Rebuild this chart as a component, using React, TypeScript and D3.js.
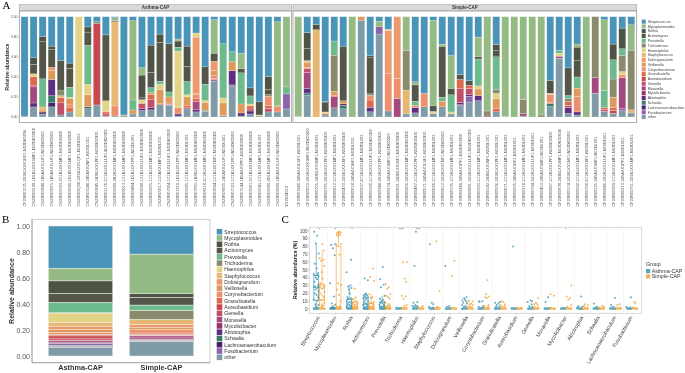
import * as d3 from "d3";
import React from "react";

const taxa = ["Streptococcus", "Mycoplasmoides", "Rothia", "Actinomyces", "Prevotella", "Trichoderma", "Haemophilus", "Staphylococcus", "Dolosigranulum", "Veillonella", "Corynebacterium", "Granulicatella", "Aureobasidium", "Gemella", "Moraxella", "Mycolicibacter", "Abiotrophia", "Schaalia", "Lachnoanaerobaculum", "Fusobacterium", "other"];
const taxonKeys = ["St", "My", "Ro", "Ac", "Pr", "Tr", "Ha", "Sp", "Do", "Ve", "Co", "Gr", "Au", "Ge", "Mo", "Ml", "Ab", "Sc", "La", "Fu", "ot"];
const taxonColors = ["#4a94b8", "#95bb85", "#4e5345", "#525748", "#6dba8d", "#8a8a6c", "#e3d385", "#e6b873", "#ec9a6c", "#dd9a5a", "#ee8f6e", "#db6a50", "#c9474f", "#c0506a", "#a34a7e", "#97306e", "#5e2f82", "#3a7a68", "#4a2170", "#8b62ab", "#7f9ba8"];

const asthmaLabels = ["CF22R01535-1D1B1XXX1KF1-N02DK00SL", "CS22R00198-1D1B1XXX1MF1-N02DK00D0", "CS22R00648-1B5AXX1LUF1-N02DK00D0", "CS22R00815-1B5AXX1LUF1-N02DK00D0", "CS22R00323-2C1B1XX1MF1-N02DK00D0", "CS22R00560-1D1B5XX1MF1-N02DK00D0", "CS22R00Q08-1D1B1XX1QF1-N02DL001", "CS22R01040-1B5AXX1NF1-N02DL001", "CS22R00845-1B3B1XX1PF1-N02DK00D0", "CS22R01170-1C1B1XX1LUF1-N02DK00D0", "CS22R00006-2B1B1XX1MF1-N02DK00D0", "CS22R00013-1C1B1XX1MF1-N02DK00D0", "CS22R00464-1D1B1XX1PF1-N02DL001", "CS22R00096-1C1B1XX1LUF1-N02DK00D0", "CS22R00255-1C1B1XX1MF1-N02DK00D0", "CS22R00517-1C5AXX1MF1-N02DL001", "CS22R07004-1C1B1XX1LUF1-N02DK00D0", "CS22R07216-1D1B1XX1PF1-N02DK00D0", "CS22R05065-1C1B1XX1MF1-N02DL001", "CS22R07855-1B3B1XX1MF1-N02DK00D0", "CS22R08118-1C1B1XX1MF1-N02DK00D0", "CS22R02004-1C1B1XX1NF1-N02DK00D0", "CS22R06655-1B5AXX1LUF1-N02DL001", "CS22R07103-1C1B1XX1PF1-N02DK00D0", "CS22R07144-1B5AXX1PF1-N02DK00D0", "CS22R00061-2C1B1XX1MF1-N02DK00D0", "CS22R00341-1C1B1XX1MF1-N02DL001", "CS22R00306-2D1B1XX1MF1-N02DK00D0", "CS22R00806-1B5AXX1LUF1-N02DK00D0", "KY2024012"];
const simpleLabels = ["CF22R01640-1B5AXX1LUF1-N02DL001", "CF22R00052-1D1B1XXX1MF1-N02DK00D0", "CF22R00105-1B3B1XX1MF1-N02DL001", "CF22R00765-1D1B1XX1PF1-N02DK00D0", "CF22R00812-1C1B1XX1MF1-N02DL001", "CF22R00433-1D1B1XX1KF1-N02DK00D0", "CF22R00618-1B5AXX1NF1-N02DL001", "CF22R00937-2C1B1XX1MF1-N02DL001", "CF22R00160-1C1B1XX1LUF1-N02DK00D0", "CF22R00348-1D1B1XX1PF1-N02DK00D0", "CF22R00274-1B5AXX1MF1-N02DK00D0", "CF22R00821-1B3B1XX1KF1-N02DK00D0", "CF22R00956-1D1B1XX1MF1-N02DK00D0", "CF22R00467-1C1B1XX1PF1-N02DK00D0", "CF22R00571-1B5AXX1LUF1-N02DK00D0", "CF22R00086-1C1B1XX1MF1-N02DL001", "CF22R00612-1D1B1XX1NF1-N02DK00D0", "CF22R00735-1C1B1XX1MF1-N02DL001", "CF22R00249-1B5AXX1PF1-N02DK00D0", "CF22R00881-1D1B1XX1LUF1-N02DK00D0", "CF22R00393-1C1B1XX1MF1-N02DL001", "CF22R00142-1B3B1XX1NF1-N02DL001", "CF22R00506-1D1B1XX1PF1-N02DL001", "CF22R00671-1C1B1XX1MF1-N02DL001", "CF22R00225-1B5AXX1KF1-N02DL001", "CF22R00318-1C1B1XX1MF1-N02DL001", "CF22R00794-1D1B1XX1LUF1-N02DL001", "CF22R00453-1B5AXX1MF1-N02DL001", "CF22R00987-1C1B1XX1PF1-N02DK00D0", "CF22R00638-1B3B1XX1MF1-N02DK00S24", "CF22R00174-1D1B1XX1NF1-N02DK00D0", "CF22R00592-1C1B1XX1MF1-N02DL001", "CF22R00706-2C1B1XX1KF1-N02DL001", "CF22R00125-1B5AXX1MF1-N02DL001", "CF22R00840-1D1B1XX1LUF1-N02DL001", "CF22R00369-1C1B1XX1MF1-N02DL001", "CF22R00213-1B5AXX1PF1-N02DL001", "CF22R00751-1D1B1XX1MF1-N02DL001"];

const asthmaSamples = [
  { St: .99, ot: .01 },
  { St: .41, Ro: .065, Ac: .095, Ha: .03, Gr: .09, Ge: .01, Mo: .16, Ab: .04, ot: .1 },
  { St: .2, Ro: .05, Ac: .37, Pr: .28, Sp: .03, Ve: .02, Ab: .02, ot: .03 },
  { St: .29, Ro: .03, Ac: .18, Ve: .09, Do: .03, Ab: .16, Sc: .07, La: .04, ot: .1 },
  { St: .43, Ac: .3, Tr: .05, Sp: .02, Gr: .05, Ge: .12, ot: .02 },
  { St: .46, Ro: .05, Ac: .19, Pr: .1, Sp: .015, Ve: .06, Co: .03, Gr: .04, ot: .05 },
  { Ha: 1 },
  { St: .1, Ro: .05, Ac: .13, Pr: .38, Ha: .1, Ve: .12, Sc: .02, ot: .08 },
  { St: .05, Tr: .02, Au: .81, ot: .12 },
  { St: .18, Ac: .65, Ha: .11, Gr: .02, Ge: .02, ot: .01 },
  { St: .01, My: .03, Ro: .01, Sp: .84, Co: .1, ot: .01 },
  { St: .98, Co: .005, ot: .015 },
  { St: .04, My: .79, Pr: .1, Ve: .04, ot: .03 },
  { St: .56, My: .08, Ro: .25, Ac: .02, Ha: .04, Ge: .06, Ab: .02, ot: .07 },
  { St: .28, Ro: .27, Ac: .15, Pr: .05, Ve: .02, Gr: .05, Ge: .08, Ab: .02, ot: .07 },
  { St: .17, Ro: .08, Ac: .38, Pr: .03, Ha: .05, Ve: .14, Gr: .01, ot: .12 },
  { St: .27, Ac: .48, Pr: .05, Ve: .06, Co: .015, Fu: .01, ot: .115 },
  { St: .22, My: .02, Ro: .06, Pr: .04, Ha: .56, Co: .06, Ab: .02, ot: .01 },
  { St: .29, Ro: .2, Ac: .15, Pr: .13, Ha: .02, Ve: .09, Gr: .02, Ge: .01, ot: .08 },
  { St: .16, Ha: .04, Do: .55, Ve: .015, Co: .04, Gr: .03, Mo: .08, Ab: .02, ot: .05 },
  { St: .52, Ac: .18, Pr: .17, Ha: .02, Ve: .08, Sc: .01, ot: .06 },
  { St: .03, My: .33, Ac: .08, Ve: .05, Co: .03, Do: .09, Gr: .01, Fu: .015, ot: .355 },
  { St: .27, Pr: .54, Ha: .05, Ve: .125, ot: .015 },
  { St: .35, Pr: .1, Ve: .09, Ab: .14, Sc: .01, Fu: .01, ot: .3 },
  { St: .365, My: .155, Ac: .04, Pr: .31, Ve: .09, Ab: .03, ot: .01 },
  { St: .71, Ac: .08, Pr: .08, Ha: .02, Gr: .03, Ge: .02, Ab: .03, ot: .03 },
  { St: .84, Ac: .13, Ha: .01, ot: .01 },
  { St: .59, Ro: .13, Ac: .05, Tr: .015, Co: .09, Gr: .03, Ge: .035, ot: .05 },
  { St: .05, My: .83, Ve: .01, Co: .05, ot: .05 },
  { My: .7, Pr: .07, Fu: .15, ot: .08 },
];

const simpleSamples = [
  { My: .995, ot: .005 },
  { St: .16, Ro: .16, Ac: .12, Ha: .015, Ve: .05, Co: .015, Ge: .04, Mo: .16, Ab: .045, Sc: .02, ot: .22 },
  { St: .08, Ro: .05, Sp: .87 },
  { St: .84, Ro: .015, Ac: .09, Ha: .015, Gr: .015, ot: .02 },
  { St: .24, Pr: .14, Tr: .355, Ve: .04, Gr: .015, Mo: .11, ot: .09 },
  { St: .29, Ac: .54, Ve: .03, Ab: .015, Sc: .035, ot: .08 },
  { My: 1 },
  { Ve: .035, ot: .96 },
  { St: .38, Ro: .02, Ac: .35, Tr: .015, Co: .045, Gr: .07, Ab: .045, ot: .05 },
  { St: .045, My: .055, Fu: .07, ot: .815 },
  { St: .125, Ha: .01, Do: .43, Co: .37, ot: .06 },
  { Do: .615, Co: .2, Mo: .185 },
  { My: .33, Tr: .39, Sp: .235, ot: .03 },
  { St: .64, My: .03, Ac: .16, Pr: .04, Co: .025, Ab: .05, ot: .04 },
  { St: .755, Co: .135, ot: .1 },
  { St: .035, My: .85, Ac: .06, Ha: .02, ot: .035 },
  { St: .27, My: .02, Ac: .5, Pr: .04, Ve: .055, ot: .1 },
  { St: .385, My: .325, Ac: .065, Pr: .17, Ha: .02, ot: .03 },
  { St: .56, Ac: .05, Gr: .09, Ge: .135, Ab: .02, Fu: .01, ot: .11 },
  { St: .62, Ac: .045, Gr: .03, Ge: .06, Ab: .015, Fu: .055, ot: .145 },
  { St: .2, My: .19, Ac: .025, Pr: .265, Ha: .03, Ve: .065, Ab: .05, ot: .16 },
  { My: .94, Tr: .05, Mo: .01 },
  { St: .27, Ro: .06, Ac: .06, Pr: .32, Tr: .035, Ha: .05, Ve: .1, Gr: .03, ot: .05 },
  { My: .995, ot: .005 },
  { My: 1 },
  { My: .825, Tr: .14, Mo: .025, ot: .01 },
  { My: 1 },
  { My: .98, Tr: .02 },
  { St: .615, Ro: .125, Ha: .01, Co: .08, Gr: .01, Sc: .03, ot: .1 },
  { St: .33, Pr: .03, Ha: .03, Mo: .02, ot: .58 },
  { St: .49, Ac: .265, Pr: .025, Tr: .03, Gr: .04, Ge: .02, Ab: .055, ot: .035 },
  { St: .27, My: .03, Ro: .135, Ac: .16, Pr: .11, Ve: .08, Co: .155, Ab: .03, ot: .02 },
  { My: 1 },
  { Tr: .6, Mo: .155, ot: .235 },
  { St: .03, My: .7, Pr: .17, Gr: .02, Ge: .02, ot: .055 },
  { St: .27, Ro: .155, Pr: .19, Tr: .18, Ve: .1, Gr: .03, Au: .03, ot: .035 },
  { St: .11, Ro: .2, Pr: .065, Tr: .155, Ha: .03, Do: .03, Mo: .3, Fu: .02, ot: .06 },
  { St: .08, My: .25, Tr: .59, Sp: .03, ot: .04 },
];

const groups = ["Asthma-CAP", "Simple-CAP"];
const asthmaMean = { St: .325, My: .097, Ro: .095, Ac: .07, Pr: .08, Tr: .003, Ha: .07, Sp: .03, Do: .028, Ve: .02, Co: .015, Gr: .012, Au: .023, Ge: .013, Mo: .012, Ml: .01, Ab: .012, Sc: .006, La: .004, Fu: .01, ot: .065 };
const simpleMean = { St: .215, My: .3, Ro: .03, Ac: .06, Pr: .04, Tr: .07, Ha: .002, Sp: .036, Do: .026, Ve: .015, Co: .025, Gr: .012, Au: .004, Ge: .006, Mo: .016, Ml: .012, Ab: .006, Sc: .004, La: .003, Fu: .003, ot: .11 };

const genera = taxa.slice(0, 20);
const asthmaPoints = [
  [99, 94, 84, 71, 58, 52, 46, 45, 44, 43, 42, 40, 38, 35, 30, 29, 28, 28, 27, 25, 23, 20, 18, 15, 12, 11, 6, 5, 3, 2],
  [83, 82, 78, 69, 33, 16, 7, 5, 3, 2],
  [63, 47, 30, 29, 27, 25, 20, 15, 14, 13, 12, 10, 9, 8, 7, 6, 5, 4, 3, 2],
  [39, 37, 20, 19, 18, 17, 16, 15, 14, 13, 11, 10, 8, 7, 6, 5, 4, 3, 2],
  [54, 38, 31, 28, 17, 13, 12, 10, 9, 8, 7, 6, 5, 4, 3, 2],
  [1.5, 1.2],
  [99, 55, 9, 8, 5, 4, 4, 3, 3, 2, 2],
  [83, 8, 6, 3, 2],
  [55, 4, 3],
  [15, 14, 12, 11, 10, 8, 7, 5, 4, 3, 2],
  [10, 10, 9, 4, 3, 2],
  [9, 8, 7, 5, 4, 3, 2],
  [80],
  [11, 10, 9, 6, 4, 3, 2],
  [15, 9],
  [1.5],
  [16, 4, 3, 2],
  [7, 3, 2],
  [14, 5, 3, 2],
  [15, 3, 2],
];
const simplePoints = [
  [83, 75, 65, 63, 62, 55, 47, 39, 33, 31, 30, 29, 28, 27, 26, 22, 20, 17, 15, 13, 12, 11, 8, 6, 4, 2],
  [99, 98, 98, 97, 97, 96, 95, 94, 83, 82, 70, 33, 31, 25, 18, 10, 6, 4, 2],
  [26, 15, 13, 10, 9, 8, 7, 6, 5, 4, 3, 2],
  [52, 41, 36, 19, 15, 14, 9, 8, 7, 6, 5, 4, 3, 2],
  [32, 28, 26, 19, 17, 15, 13, 8, 6, 4, 3, 2],
  [60, 60, 39, 35, 17, 16, 13, 5, 4, 2],
  [4, 3, 2],
  [87, 23, 3, 2],
  [62, 42],
  [11, 10, 9, 7, 6, 5, 4, 3, 2],
  [37, 19, 16, 15, 14, 5, 4, 3, 2],
  [10, 9, 6, 5, 4, 3, 2],
  [1.5],
  [14, 8, 7, 6, 5, 3, 2],
  [19, 17, 2],
  [30, 16, 14, 12, 5, 3],
  [6, 5, 4, 2],
  [4, 3, 2],
  [6, 5, 2],
  [9, 7, 2],
];
const lowCluster = [0.2, 0.3, 0.4, 0.5, 0.6, 0.7, 0.8, 1, 1.2, 0.1, 0.9, 0.4];
const jitter = [-0.8, 0.35, -0.2, 0.9, -0.55, 0.1, 0.7, -0.95, 0.5, -0.35, 0.85, -0.1, 0.25, -0.7, 0.6, -0.45, 0.95];

// [whisker low, q1, median, q3, whisker high]
const asthmaBoxes = [[1, 11, 28, 43, 84], [0, 0.5, 1, 2, 5], [0, 1, 4, 12, 30], [0, 1, 6, 14, 20], [0, 1, 3, 9, 17]];
const simpleBoxes = [[0, 4, 12, 32, 75], [0, 1, 3, 80, 100], [0, 1, 3, 9, 14], [0, 1, 3, 7, 19], [0, 1, 1.5, 4, 8]];
const sigMarks = { Streptococcus: "*", Mycoplasmoides: "*", Rothia: "*", Trichoderma: "***", Haemophilus: "***", Mycolicibacter: "*" };

const W = 685;
const H = 373;
const sans = "'Liberation Sans', Arial, sans-serif";
const groupColors = ["#2f8fae", "#f0a030"];

function stackOf(rows) {
  const filled = rows.map((r) => Object.fromEntries(taxonKeys.map((k) => [k, r[k] || 0])));
  return d3.stack().keys([...taxonKeys].reverse()).offset(d3.stackOffsetExpand)(filled);
}

function Bars({ rows, labels, x, y, stroke }) {
  const layers = stackOf(rows);
  return (
    <g>
      {layers.map((layer) => (
        <g key={layer.key} fill={taxonColors[taxonKeys.indexOf(layer.key)]}>
          {layer.map((d, i) =>
            d[1] - d[0] > 0 ? (
              <rect
                key={labels[i]}
                x={x(labels[i])}
                width={x.bandwidth()}
                y={y(d[1])}
                height={Math.abs(y(d[0]) - y(d[1]))}
                stroke="#f4f4ee"
                strokeWidth={stroke}
              />
            ) : null
          )}
        </g>
      ))}
    </g>
  );
}

function FacetPanel({ title, rows, labels, range, panel, y }) {
  const x = d3.scaleBand().domain(labels).range(range).paddingInner(0.22).paddingOuter(0.11);
  return (
    <g>
      <rect x={panel[0]} y={4.5} width={panel[1] - panel[0]} height={6.5} fill="#d9d9d9" stroke="#a8a8a8" strokeWidth={0.6} />
      <text x={(panel[0] + panel[1]) / 2} y={9.4} textAnchor="middle" fontSize={4.5} fontWeight="bold" fill="#333">{title}</text>
      <rect x={panel[0]} y={11} width={panel[1] - panel[0]} height={111.5} fill="#fff" stroke="#8a8a8a" strokeWidth={0.7} />
      <Bars rows={rows} labels={labels} x={x} y={y} stroke={0.25} />
      {labels.map((l) => (
        <text
          key={l}
          transform={`translate(${x(l) + x.bandwidth() / 2 + 1.3},206.5) rotate(-90)`}
          fontSize={3.95}
          fill="#555"
        >
          {l}
        </text>
      ))}
    </g>
  );
}

function PanelA() {
  const y = d3.scaleLinear().domain([0, 1]).range([117, 16.7]);
  return (
    <g>
      <FacetPanel title={groups[0]} rows={asthmaSamples} labels={asthmaLabels} range={[20, 291]} panel={[19.3, 291.7]} y={y} />
      <FacetPanel title={groups[1]} rows={simpleSamples} labels={simpleLabels} range={[293.8, 635.8]} panel={[293, 636.7]} y={y} />
      {y.ticks(4).map((t) => (
        <g key={t}>
          <line x1={18} x2={19.3} y1={y(t)} y2={y(t)} stroke="#888" strokeWidth={0.4} />
          <text x={17.5} y={y(t) + 1.2} textAnchor="end" fontSize={3.4} fill="#555">{d3.format(".2f")(t)}</text>
        </g>
      ))}
      <text transform="translate(9,67) rotate(-90)" textAnchor="middle" fontSize={5} fontWeight="bold" fill="#333">Relative abundance</text>
      {taxa.map((t, i) => (
        <g key={t}>
          <rect x={641.7} y={19.6 + i * 4.77} width={4} height={4.1} fill={taxonColors[i]} />
          <text x={647.7} y={22.9 + i * 4.77} fontSize={3.6} fill="#444">{t}</text>
        </g>
      ))}
    </g>
  );
}

function PanelB() {
  const x = d3.scaleBand().domain(groups).range([48.3, 193.7]).paddingInner(0.205);
  const y = d3.scaleLinear().domain([0, 1]).range([356, 226]);
  return (
    <g>
      <rect x={32} y={219.3} width={178} height={143.4} fill="#fff" stroke="#c4c4c4" strokeWidth={0.8} />
      <path d="M32,219.3V362.7H210" fill="none" stroke="#9a9a9a" strokeWidth={0.8} />
      <Bars rows={[asthmaMean, simpleMean]} labels={groups} x={x} y={y} stroke={0.45} />
      {y.ticks(4).map((t) => (
        <text key={t} x={30} y={y(t) + 2.5} textAnchor="end" fontSize={7} fill="#555">{d3.format(".2f")(t)}</text>
      ))}
      {groups.map((g) => (
        <text key={g} x={x(g) + x.bandwidth() / 2} y={370} textAnchor="middle" fontSize={7.3} fontWeight="bold" fill="#333">{g}</text>
      ))}
      <text transform="translate(13.8,291) rotate(-90)" textAnchor="middle" fontSize={7} fontWeight="bold" fill="#333">Relative abundance</text>
      {taxa.map((t, i) => (
        <g key={t}>
          <rect x={216.7} y={228.9 + i * 6.28} width={5.6} height={5.6} fill={taxonColors[i]} />
          <text x={224.3} y={233.6 + i * 6.28} fontSize={5.1} fill="#333">{t}</text>
        </g>
      ))}
    </g>
  );
}

function GroupDots({ values, cx, color }) {
  return (
    <g fill={color} opacity={0.75}>
      {values.map((v, i) => (
        <circle key={i} cx={cx(i)} cy={v} r={1} />
      ))}
    </g>
  );
}

function PanelC() {
  const x = d3.scalePoint().domain(genera).range([309.3, 641.7]).padding(0.6);
  const y = d3.scaleLinear().domain([0, 100]).range([309, 231]);
  const dodge = 2.9;
  const step = x.step();
  return (
    <g>
      <rect x={309.3} y={227.3} width={332.4} height={86} fill="#fff" stroke="#d0d0d0" strokeWidth={0.8} />
      {genera.slice(0, -1).map((g) => (
        <line key={g} x1={x(g) + step / 2} x2={x(g) + step / 2} y1={227.3} y2={313.3} stroke="#d8d8d8" strokeWidth={0.5} strokeDasharray="0.8 0.8" />
      ))}
      {y.ticks(10).map((t) => (
        <g key={t}>
          <line x1={308} x2={309.3} y1={y(t)} y2={y(t)} stroke="#999" strokeWidth={0.4} />
          <text x={307.5} y={y(t) + 1.6} textAnchor="end" fontSize={4.5} fill="#444">{t}</text>
        </g>
      ))}
      <text transform="translate(297,270) rotate(-90)" textAnchor="middle" fontSize={5.2} fontWeight="bold" fill="#222">Relative abundance (%)</text>
      {genera.map((g, gi) => {
        const sides = [
          { pts: asthmaPoints[gi], box: asthmaBoxes[gi], off: -dodge, color: groupColors[0] },
          { pts: simplePoints[gi], box: simpleBoxes[gi], off: dodge, color: groupColors[1] },
        ];
        return (
          <g key={g}>
            {sides.map((s, si) => {
              const cxc = x(g) + s.off;
              const vals = [...s.pts, ...lowCluster];
              return (
                <g key={si}>
                  {s.box && (
                    <g fill="none" stroke={s.color} strokeWidth={0.6}>
                      <line x1={cxc} x2={cxc} y1={y(s.box[0])} y2={y(s.box[1])} />
                      <line x1={cxc} x2={cxc} y1={y(s.box[3])} y2={y(s.box[4])} />
                      <rect x={cxc - 2.4} width={4.8} y={y(s.box[3])} height={y(s.box[1]) - y(s.box[3])} />
                      <line x1={cxc - 2.4} x2={cxc + 2.4} y1={y(s.box[2])} y2={y(s.box[2])} />
                    </g>
                  )}
                  <GroupDots
                    values={vals.map((v) => y(v))}
                    cx={(i) => cxc + jitter[(i + gi * 3 + si * 5) % jitter.length] * 2.7}
                    color={s.color}
                  />
                </g>
              );
            })}
            {sigMarks[g] && (
              <text x={x(g)} y={230.6} textAnchor="middle" fontSize={4} fill="#555">{sigMarks[g]}</text>
            )}
            <line x1={x(g)} x2={x(g)} y1={313.3} y2={314.6} stroke="#999" strokeWidth={0.4} />
            <text transform={`translate(${x(g) + 1},317.5) rotate(-60)`} textAnchor="end" fontSize={5.3} fill="#333">{g}</text>
          </g>
        );
      })}
      <text x={646} y={266} fontSize={5.3} fill="#333">Group</text>
      {groups.map((g, i) => (
        <g key={g}>
          <rect x={646} y={269 + i * 5.3} width={4.2} height={4.2} fill={groupColors[i]} opacity={0.8} />
          <text x={651.7} y={272.9 + i * 5.3} fontSize={5.3} fill="#333">{g}</text>
        </g>
      ))}
    </g>
  );
}

export default function App() {
  return (
    <svg
      width={W}
      height={H}
      viewBox={`0 0 ${W} ${H}`}
      style={{ position: "absolute", left: 0, top: 0, display: "block", background: "#fff" }}
      fontFamily={sans}
    >
      <defs>
        <filter id="soft" x="0" y="0" width="100%" height="100%" filterUnits="userSpaceOnUse">
          <feGaussianBlur stdDeviation="0.3" />
        </filter>
      </defs>
      <g filter="url(#soft)">
        <rect width={W} height={H} fill="#fff" />
        <PanelA />
        <PanelB />
        <PanelC />
        <text x={2.5} y={8.5} fontSize={11} fontFamily="'Liberation Serif', serif">A</text>
        <text x={2} y={223} fontSize={11} fontFamily="'Liberation Serif', serif">B</text>
        <text x={281.5} y={223} fontSize={11} fontFamily="'Liberation Serif', serif">C</text>
      </g>
    </svg>
  );
}
